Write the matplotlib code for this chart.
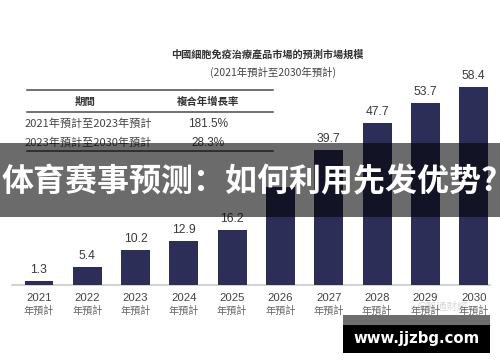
import matplotlib
matplotlib.use("Agg")
import matplotlib.pyplot as plt
from matplotlib.patches import Rectangle

plt.rcParams["font.family"] = ["Noto Sans CJK TC", "DejaVu Sans"]

W, H = 500, 362

years = ["2021", "2022", "2023", "2024", "2025", "2026", "2027", "2028", "2029", "2030"]
values = [1.3, 5.4, 10.2, 12.9, 16.2, 28.9, 39.7, 47.7, 53.7, 58.4]
hidden_label = "2026"  # its value label is covered by the banner in the source
year_suffix = "年預計"

title = "中國細胞免疫治療產品市場的預測市場規模"
subtitle = "(2021年預計至2030年預計)"
table_header = ["期間", "複合年增長率"]
table_periods = ["2021年預計至2023年預計", "2023年預計至2030年預計"]
table_rates = ["181.5%", "28.3%"]

banner_text = "体育赛事预测：如何利用先发优势?"
site_text = "www.jjzbg.com"
watermark = "@智通財經"

BAR = "#2c2e58"
TXT = "#3a3a3a"


def fx(x):
    return x / W


def fy(y):
    return 1 - y / H


fig = plt.figure(figsize=(W / 100, H / 100), dpi=100)
ax = fig.add_axes([0, 0, 1, 1])
ax.set_axis_off()

# pixel layout: bar 0 centre at x=39, step 48.3 px; baseline y=285, 3.39 px per unit
step = 48.3
x0 = 39
ax.set_xlim(-x0 / step, (W - x0) / step)
ax.set_ylim(-(H - 285) / 3.39, 285 / 3.39)

xs = list(range(len(years)))
ax.bar(xs, values, width=0.6, color=BAR, zorder=2)
ax.plot([-27 / step, (490 - x0) / step], [0, 0], color="#c9c9c9", lw=1.2, zorder=1)

for x, v in zip(xs, values):
    if years[x] != hidden_label:
        ax.text(x, v + 1.5, f"{v:.1f}", ha="center", va="bottom", fontsize=8.7,
                family=["Liberation Sans", "DejaVu Sans"], color=TXT, zorder=3)
    ax.text(x, -3.8, years[x], ha="center", va="center", fontsize=8.2,
            family=["Liberation Sans", "DejaVu Sans"], color="#444444", zorder=3)
    ax.text(x, -7.6, year_suffix, ha="center", va="center", fontsize=7.3,
            color="#666666", zorder=3)

# title
ax.text(fx(267), fy(54), title, transform=ax.transAxes, ha="center", va="center",
        fontsize=7.3, color="#333333", fontweight="bold")
ax.text(fx(273), fy(72), subtitle, transform=ax.transAxes, ha="center", va="center",
        fontsize=7.5, color="#444444")

# table
for yl in (90, 112, 151):
    ax.plot([fx(27), fx(273)], [fy(yl), fy(yl)], transform=ax.transAxes,
            color="#4a4a4a", lw=1.1)
ax.text(fx(85), fy(102), table_header[0], transform=ax.transAxes, ha="center",
        va="center", fontsize=7.5, color="#333333", fontweight="bold")
ax.text(fx(208), fy(102), table_header[1], transform=ax.transAxes, ha="center",
        va="center", fontsize=7.5, color="#333333", fontweight="bold")
for i, (p, r) in enumerate(zip(table_periods, table_rates)):
    yy = 124 + i * 19
    ax.text(fx(25), fy(yy), p, transform=ax.transAxes, ha="left", va="center",
            fontsize=8, color="#444444")
    ax.text(fx(208), fy(yy), r, transform=ax.transAxes, ha="center", va="center",
            fontsize=8.5, family=["Liberation Sans", "DejaVu Sans"], color=TXT)

# overlay banner
ax.add_patch(Rectangle((0, fy(217)), 1, (217 - 143) / H, transform=ax.transAxes,
                       facecolor="black", alpha=0.58, edgecolor="none", zorder=5))
ax.text(0.5, fy(182), banner_text, transform=ax.transAxes, ha="center", va="center",
        fontsize=23, color="white", fontweight="bold",
        family=["Noto Sans CJK SC", "DejaVu Sans"], zorder=6)

# faint watermark, then the site box
ax.text(fx(442), fy(306), watermark, transform=ax.transAxes, ha="center", va="center",
        fontsize=7.5, color="#d8d8d8", zorder=1)
ax.add_patch(Rectangle((fx(343), fy(325)), (490 - 343) / W, 10 / H, transform=ax.transAxes,
                       facecolor="#6e6e6e", edgecolor="none", zorder=5))
ax.add_patch(Rectangle((fx(343), fy(353)), (490 - 343) / W, 28 / H, transform=ax.transAxes,
                       facecolor="black", edgecolor="none", zorder=5))
ax.text(fx(417), fy(338), site_text, transform=ax.transAxes, ha="center", va="center",
        fontsize=10.7, color="white", fontweight="bold", family="DejaVu Sans", zorder=6)

fig.savefig("out.png", dpi=100)
